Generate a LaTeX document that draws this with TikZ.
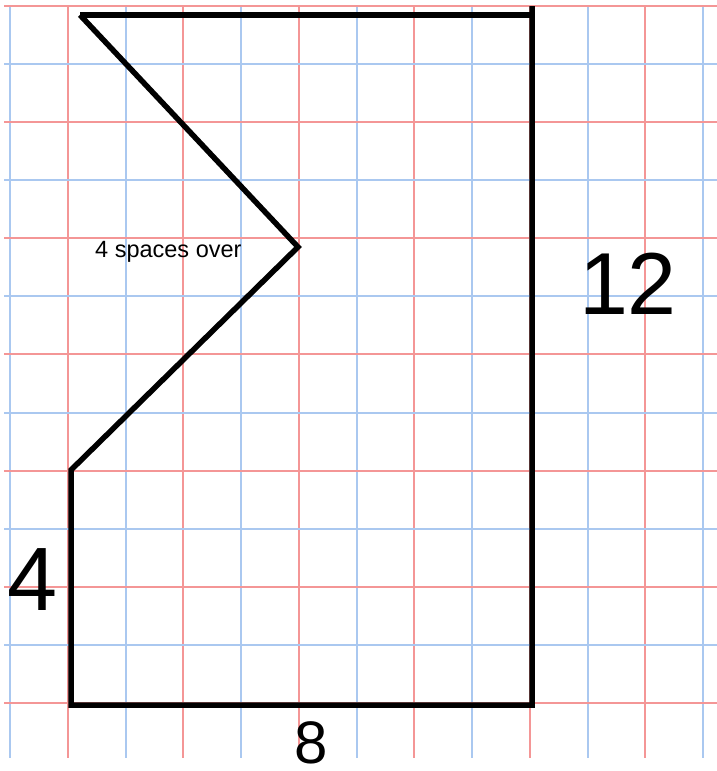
\documentclass[tikz,border=0pt]{standalone}
\usepackage{fontspec}
\setmainfont{Liberation Sans}
\definecolor{gridred}{RGB}{244,150,150}
\definecolor{gridblue}{RGB}{170,200,240}
\begin{document}
\begin{tikzpicture}[x=1pt,y=-1pt,
  redline/.style={draw=gridred,line width=2pt},
  blueline/.style={draw=gridblue,line width=2pt},
  shapeline/.style={draw=black,line width=5.5pt,line join=miter},
  lbl/.style={inner sep=0pt,text=black}]
\useasboundingbox (0,0) rectangle (717,771);
\fill[white] (0,0) rectangle (717,771);
% vertical grid lines
\foreach \k in {0,...,12}{
  \pgfmathsetmacro{\xx}{10+57.75*\k}
  \ifodd\k
    \draw[redline] (\xx,6) -- (\xx,758);
  \else
    \draw[blueline] (\xx,6) -- (\xx,758);
  \fi
}
% horizontal grid lines
\foreach \k in {0,...,12}{
  \pgfmathsetmacro{\yy}{6+58.08*\k}
  \ifodd\k
    \draw[blueline] (4,\yy) -- (717,\yy);
  \else
    \draw[redline] (4,\yy) -- (717,\yy);
  \fi
}
% shape corners
\coordinate (tl) at (80,15);
\coordinate (tr) at (532,15);
\coordinate (rtop) at (532,6);
\coordinate (br) at (532,705);
\coordinate (bl) at (71,705);
\coordinate (ml) at (71,470);
\coordinate (v) at (298,247);
\draw[shapeline] (tl) -- (tr);
\draw[shapeline] (rtop) -- (br) -- (bl) -- (ml) -- (v) -- (tl);
% labels
\node[lbl,anchor=base west,font=\fontsize{23.5}{26}\selectfont] (spaces) at (95,257) {4 spaces over};
\node[lbl,font=\fontsize{88}{90}\selectfont] (twelve) at (628,284) {12};
\node[lbl,font=\fontsize{90}{92}\selectfont] (four) at (33,580) {4};
\node[lbl,font=\fontsize{60}{62}\selectfont] (eight) at (311,743) {8};
\end{tikzpicture}
\end{document}
